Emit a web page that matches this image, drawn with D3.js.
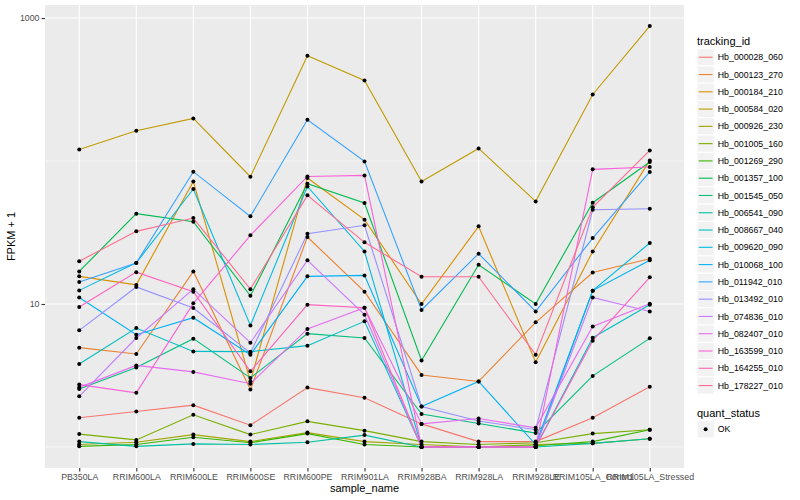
<!DOCTYPE html>
<html>
<head>
<meta charset="utf-8">
<script src="https://cdn.jsdelivr.net/npm/d3@7"></script>
<style>
  body { margin: 0; background: #fff; }
  text { font-family: "Liberation Sans", Arial, Helvetica, sans-serif; }
</style>
</head>
<body>
<svg id="chart" width="800" height="500"></svg>
<script>
const samples = ['PB350LA', 'RRIM600LA', 'RRIM600LE', 'RRIM600SE', 'RRIM600PE', 'RRIM901LA',
  'RRIM928BA', 'RRIM928LA', 'RRIM928LE', 'RRIM105LA_Control', 'RRIM105LA_Stressed']

const trackingIds = ['Hb_000028_060', 'Hb_000123_270', 'Hb_000184_210', 'Hb_000584_020', 'Hb_000926_230',
  'Hb_001005_160', 'Hb_001269_290', 'Hb_001357_100', 'Hb_001545_050', 'Hb_006541_090',
  'Hb_008667_040', 'Hb_009620_090', 'Hb_010068_100', 'Hb_011942_010', 'Hb_013492_010',
  'Hb_074836_010', 'Hb_082407_010', 'Hb_163599_010', 'Hb_164255_010', 'Hb_178227_010']

// FPKM + 1 per sample, in sample order
const hb000028_060 = [1.60, 1.77, 1.96, 1.42, 2.60, 2.21, 1.45, 1.09, 1.09, 1.60, 2.64]
const hb000123_270 = [4.95, 4.47, 16.9, 2.52, 29.4, 12.2, 3.19, 2.87, 7.44, 16.6, 20.7]
const hb000184_210 = [15.6, 13.6, 72.0, 2.87, 76.1, 38.9, 10.0, 34.9, 3.91, 23.3, 101]
const hb000584_020 = [120.5, 163, 198.6, 77.7, 545, 366, 72.0, 122.5, 52.2, 292, 879]
const hb000926_230 = [1.04, 1.08, 1.22, 1.09, 1.26, 1.09, 1.04, 1.00, 1.04, 1.06, 1.14]
const hb001005_160 = [1.23, 1.12, 1.68, 1.22, 1.51, 1.30, 1.09, 1.04, 1.07, 1.24, 1.32]
const hb001269_290 = [1.01, 1.04, 1.17, 1.07, 1.24, 1.04, 1.00, 1.00, 1.02, 1.09, 1.32]
const hb001357_100 = [16.9, 42.8, 37.6, 11.4, 69.4, 50.9, 4.03, 18.8, 10.0, 51.1, 98.4]
const hb001545_050 = [2.54, 3.60, 5.72, 3.04, 6.20, 5.78, 1.70, 1.46, 1.25, 3.14, 5.75]
const hb006541_090 = [1.09, 1.01, 1.05, 1.04, 1.08, 1.21, 1.00, 1.00, 1.00, 1.06, 1.14]
const hb008667_040 = [3.80, 6.79, 4.66, 4.64, 5.11, 7.56, 1.00, 1.00, 1.00, 5.81, 9.89]
const hb009620_090 = [12.45, 19.4, 63.7, 7.08, 66.4, 23.3, 1.00, 1.00, 1.00, 12.4, 26.7]
const hb010068_100 = [11.1, 6.10, 8.02, 4.42, 15.6, 15.85, 1.92, 2.87, 1.04, 12.4, 20.2]
const hb011942_010 = [14.25, 19.36, 84.2, 41.0, 194.5, 99.4, 9.08, 22.5, 8.87, 28.9, 83.8]
const hb013492_010 = [6.54, 13.15, 9.38, 4.54, 31.0, 35.5, 1.92, 1.52, 1.32, 45.6, 46.4]
const hb074836_010 = [2.26, 5.78, 12.7, 5.36, 20.2, 8.42, 1.00, 1.00, 1.00, 11.1, 8.87]
const hb082407_010 = [2.61, 3.72, 3.35, 2.77, 6.69, 9.42, 1.45, 1.58, 1.36, 6.97, 10.05]
const hb163599_010 = [2.73, 2.39, 10.1, 30.2, 78.0, 79.3, 1.00, 1.00, 1.00, 87.4, 90.8]
const hb164255_010 = [9.53, 16.7, 12.2, 3.38, 9.89, 9.42, 1.00, 1.00, 1.00, 5.54, 15.35]
const hb178227_010 = [19.9, 32.2, 39.9, 12.7, 57.5, 27.0, 15.5, 15.5, 4.42, 47.4, 118.6]

const seriesValues = [hb000028_060, hb000123_270, hb000184_210, hb000584_020, hb000926_230,
  hb001005_160, hb001269_290, hb001357_100, hb001545_050, hb006541_090,
  hb008667_040, hb009620_090, hb010068_100, hb011942_010, hb013492_010,
  hb074836_010, hb082407_010, hb163599_010, hb164255_010, hb178227_010]

const quantStatus = ['OK']
const yMajorTicks = [10, 1000]
const yMinorTicks = [1, 100]

// ggplot default hue palette for 20 groups
const hueColours = ['#F8766D', '#EA8331', '#D89000', '#C09B00', '#A3A500', '#7CAE00', '#39B600', '#00BB4E',
  '#00BF7D', '#00C1A3', '#00BFC4', '#00BAE0', '#00B0F6', '#35A2FF', '#9590FF', '#C77CFF',
  '#E76BF3', '#FA62DB', '#FF62BC', '#FF6C91']

const panel = {left: 45, right: 684, top: 5, bottom: 468}

const svg = d3.select('#chart')

const series = trackingIds.map((id, i) => ({
  id: id,
  values: seriesValues[i].map((v, j) => ({sample: samples[j], value: v}))
}))

const allValues = seriesValues.flat()
const logMin = Math.log10(d3.min(allValues))
const logMax = Math.log10(d3.max(allValues))
const pad = (logMax - logMin) * 0.05

const x = d3.scalePoint()
    .domain(samples)
    .range([panel.left, panel.right])
    .padding(0.6)

const y = d3.scaleLog()
    .domain([Math.pow(10, logMin - pad), Math.pow(10, logMax + pad)])
    .range([panel.bottom, panel.top])

const colour = d3.scaleOrdinal().domain(trackingIds).range(hueColours)

// panel background + grid
svg.append('rect')
    .attr('x', panel.left).attr('y', panel.top)
    .attr('width', panel.right - panel.left).attr('height', panel.bottom - panel.top)
    .attr('fill', '#EBEBEB')

svg.append('g').selectAll('line')
  .data(yMinorTicks)
  .enter().append('line')
    .attr('x1', panel.left).attr('x2', panel.right)
    .attr('y1', d => y(d)).attr('y2', d => y(d))
    .attr('stroke', '#fff').attr('stroke-width', 0.55)

svg.append('g').selectAll('line')
  .data(yMajorTicks)
  .enter().append('line')
    .attr('x1', panel.left).attr('x2', panel.right)
    .attr('y1', d => y(d)).attr('y2', d => y(d))
    .attr('stroke', '#fff').attr('stroke-width', 1.1)

svg.append('g').selectAll('line')
  .data(samples)
  .enter().append('line')
    .attr('x1', d => x(d)).attr('x2', d => x(d))
    .attr('y1', panel.top).attr('y2', panel.bottom)
    .attr('stroke', '#fff').attr('stroke-width', 1.1)

// axes
const yAxis = svg.append('g')
    .attr('transform', 'translate(' + panel.left + ',0)')
    .call(d3.axisLeft(y).tickValues(yMajorTicks).tickFormat(d3.format('d')).tickSize(3.5).tickPadding(2))
yAxis.select('.domain').remove()

const xAxis = svg.append('g')
    .attr('transform', 'translate(0,' + panel.bottom + ')')
    .call(d3.axisBottom(x).tickSize(3.5).tickPadding(2))
xAxis.select('.domain').remove()

svg.selectAll('.tick line').attr('stroke', '#333333').attr('stroke-width', 1.1)
svg.selectAll('.tick text')
    .attr('fill', '#4D4D4D')
    .style('font-size', '8.8px')
    .style('font-family', '"Liberation Sans", Arial, sans-serif')

svg.append('text')
    .attr('x', (panel.left + panel.right) / 2)
    .attr('y', 492)
    .attr('text-anchor', 'middle')
    .style('font-size', '11px')
    .text('sample_name')

svg.append('text')
    .attr('transform', 'translate(15,' + (panel.top + panel.bottom) / 2 + ') rotate(-90)')
    .attr('text-anchor', 'middle')
    .style('font-size', '11px')
    .text('FPKM + 1')

// lines
const line = d3.line()
    .x(d => x(d.sample))
    .y(d => y(d.value))

svg.append('g').selectAll('path')
  .data(series)
  .enter().append('path')
    .attr('d', d => line(d.values))
    .attr('fill', 'none')
    .attr('stroke', d => colour(d.id))
    .attr('stroke-width', 1.1)

// points
svg.append('g').selectAll('circle')
  .data(series.flatMap(s => s.values))
  .enter().append('circle')
    .attr('cx', d => x(d.sample))
    .attr('cy', d => y(d.value))
    .attr('r', 2)
    .attr('fill', '#000')

// legend: tracking_id
const keySize = 17.28
const legendX = 697
const legendTop = 48.6

svg.append('text')
    .attr('x', legendX).attr('y', 44.5)
    .style('font-size', '11px')
    .text('tracking_id')

const keys = svg.append('g').selectAll('g')
  .data(trackingIds)
  .enter().append('g')
    .attr('transform', (d, i) => 'translate(' + legendX + ',' + (legendTop + i * keySize) + ')')

keys.append('rect')
    .attr('width', keySize).attr('height', keySize)
    .attr('fill', '#F2F2F2').attr('stroke', '#fff').attr('stroke-width', 1)

keys.append('line')
    .attr('x1', 1.7).attr('x2', keySize - 1.7)
    .attr('y1', keySize / 2).attr('y2', keySize / 2)
    .attr('stroke', d => colour(d)).attr('stroke-width', 1.1)

keys.append('text')
    .attr('x', keySize + 3.5).attr('y', keySize / 2)
    .attr('dy', '0.35em')
    .style('font-size', '8.8px')
    .text(d => d)

// legend: quant_status
svg.append('text')
    .attr('x', legendX).attr('y', 416.5)
    .style('font-size', '11px')
    .text('quant_status')

const statusKeys = svg.append('g').selectAll('g')
  .data(quantStatus)
  .enter().append('g')
    .attr('transform', (d, i) => 'translate(' + legendX + ',' + (420.6 + i * keySize) + ')')

statusKeys.append('rect')
    .attr('width', keySize).attr('height', keySize)
    .attr('fill', '#F2F2F2').attr('stroke', '#fff').attr('stroke-width', 1)

statusKeys.append('circle')
    .attr('cx', keySize / 2).attr('cy', keySize / 2).attr('r', 2)
    .attr('fill', '#000')

statusKeys.append('text')
    .attr('x', keySize + 3.5).attr('y', keySize / 2)
    .attr('dy', '0.35em')
    .style('font-size', '8.8px')
    .text(d => d)
</script>
</body>
</html>
